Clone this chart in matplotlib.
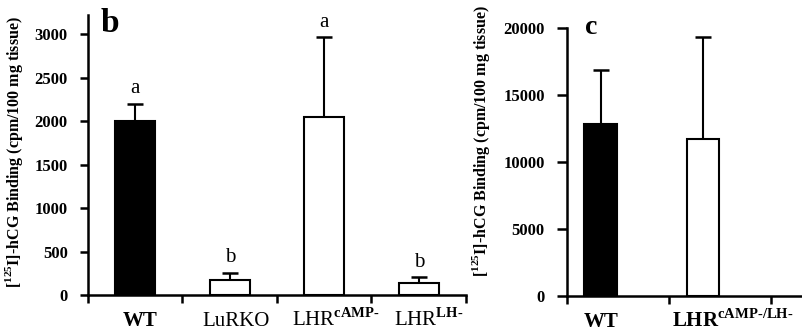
import numpy as np
import matplotlib.pyplot as plt

plt.rcParams['font.family'] = ['Liberation Serif', 'DejaVu Serif']
plt.rcParams['mathtext.fontset'] = 'custom'
plt.rcParams['mathtext.rm'] = 'Liberation Serif'
plt.rcParams['mathtext.bf'] = 'Liberation Serif:bold'

# panel b
groups_b = ['WT', 'LuRKO', r'LHR$^{\mathbf{cAMP\text{-}}}$', r'LHR$^{\mathbf{LH\text{-}}}$']
mean_b = [2000, 175, 2045, 140]
err_b = [200, 80, 920, 65]
colors_b = ['black', 'white', 'white', 'white']
letters_b = ['a', 'b', 'a', 'b']

# panel c
groups_c = ['WT', r'LHR$^{\mathbf{cAMP\text{-}/LH\text{-}}}$']
mean_c = [12850, 11700]
err_c = [4050, 7650]
colors_c = ['black', 'white']

ylabel = r'[$^{\mathbf{125}}$I]-hCG Binding (cpm/100 mg tissue)'

fig = plt.figure(figsize=(8.03, 3.32), dpi=100)
ax1 = fig.add_axes([88/803, 37/332, 378/803, 280/332])
ax2 = fig.add_axes([567/803, 36/332, 236/803, 268/332])

lw = 1.8
for ax in (ax1, ax2):
    ax.spines['top'].set_visible(False)
    ax.spines['right'].set_visible(False)
    ax.spines['left'].set_linewidth(lw)
    ax.spines['bottom'].set_linewidth(lw)
    ax.tick_params(axis='both', which='major', width=lw, length=6, direction='out')
    ax.tick_params(axis='y', pad=8.5)

# ---- panel b
x = np.arange(len(groups_b)) + 0.5
ax1.bar(x, mean_b, width=0.42, color=colors_b, edgecolor='black', linewidth=1.5, zorder=2)
ax1.errorbar(x, mean_b, yerr=[np.zeros(len(err_b)), err_b], fmt='none', ecolor='black',
             elinewidth=1.5, capsize=6, capthick=1.8, zorder=1)
for xi, m, e, l in zip(x, mean_b, err_b, letters_b):
    ax1.annotate(l, (xi, m + e), xytext=(0, 4), textcoords='offset points',
                 ha='center', va='bottom', fontsize=15)
ax1.set_xlim(0, 4)
ax1.set_ylim(0, 3220)
ax1.set_yticks(np.arange(0, 3001, 500))
ax1.set_yticklabels([str(v) for v in range(0, 3001, 500)], fontweight='bold', fontsize=12)
ax1.set_xticks(np.arange(0, 5))
ax1.set_xticklabels([])
label_shift_b = [0.05, 0.07, 0.12, 0.11]
for xi, s, g in zip(x, label_shift_b, groups_b):
    ax1.annotate(g, (xi + s, 0), xycoords=('data', 'axes fraction'), xytext=(0, -22.5),
                 textcoords='offset points', ha='center', va='baseline', fontsize=15,
                 fontweight='bold' if g == 'WT' else 'normal')
ax1.set_ylabel(ylabel, fontsize=11.5, fontweight='bold')
ax1.yaxis.set_label_coords(25/803, 180/332, transform=fig.transFigure)
ax1.annotate('b', (0, 1), xycoords='axes fraction', xytext=(9, -6), textcoords='offset points',
             fontsize=24, fontweight='bold', ha='left', va='center')

# ---- panel c
xc = np.arange(len(groups_c)) + 0.33
ax2.bar(xc, mean_c, width=0.32, color=colors_c, edgecolor='black', linewidth=1.5, zorder=2)
ax2.errorbar(xc, mean_c, yerr=[np.zeros(len(err_c)), err_c], fmt='none', ecolor='black',
             elinewidth=1.5, capsize=6, capthick=1.8, zorder=1)
ax2.set_xlim(0, 2.31)
ax2.set_ylim(0, 20000)
ax2.set_yticks(np.arange(0, 20001, 5000))
ax2.set_yticklabels([str(v) for v in range(0, 20001, 5000)], fontweight='bold', fontsize=12)
ax2.tick_params(axis='y', length=7.5)
ax2.set_xticks([0, 1, 2])
ax2.set_xticklabels([])
ax2.annotate(groups_c[0], (xc[0], 0), xycoords=('data', 'axes fraction'), xytext=(0, -22.5),
             textcoords='offset points', ha='center', va='baseline', fontsize=15,
             fontweight='bold')
ax2.annotate(groups_c[1], (1.03, 0), xycoords=('data', 'axes fraction'), xytext=(0, -22.5),
             textcoords='offset points', ha='left', va='baseline', fontsize=15,
             fontweight='bold')
ax2.set_ylabel(ylabel, fontsize=11.5, fontweight='bold')
ax2.yaxis.set_label_coords(492/803, 191/332, transform=fig.transFigure)
ax2.annotate('c', (0, 1), xycoords='axes fraction', xytext=(13, 0), textcoords='offset points',
             fontsize=20, fontweight='bold', ha='left', va='center')

fig.savefig('out.png', dpi=100)
